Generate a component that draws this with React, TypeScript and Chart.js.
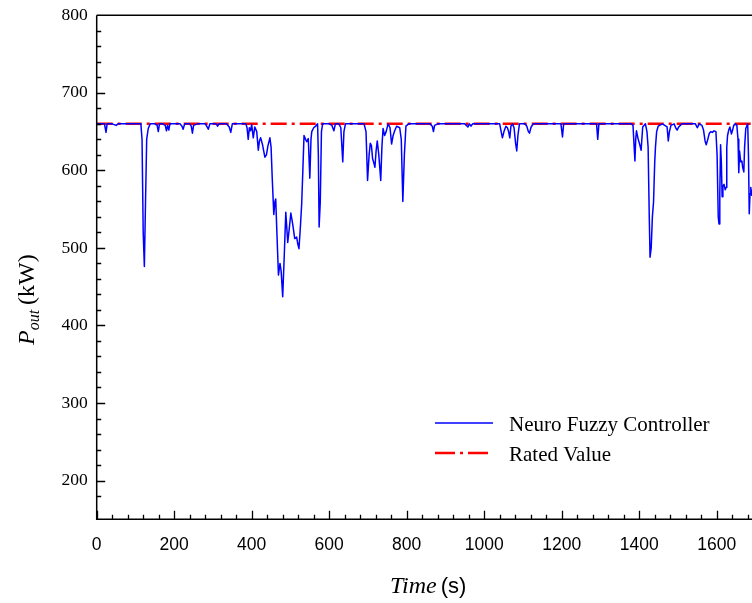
import React, { useEffect, useRef } from "react";
import { Chart, registerables } from "chart.js";

Chart.register(...registerables);

// ---------------- data ----------------
const timeS = [
  0, 10, 20, 24, 27, 40, 50, 55, 80, 100, 114, 117, 120, 123, 126, 129, 133, 138, 150, 156, 159, 162, 170, 177, 180, 183, 186, 189,
  200, 215, 220, 223, 227, 240, 244, 247, 250, 260, 280, 285, 288, 292, 300, 308, 312, 316, 335, 342, 346, 350, 365, 385, 388, 391,
  394, 397, 400, 404, 408, 413, 417, 420, 423, 428, 434, 438, 442, 447, 450, 453, 457, 460, 462, 465, 469, 473, 476, 480, 484, 488,
  493, 497, 501, 506, 511, 516, 519, 522, 526, 529, 532, 535, 539, 542, 546, 550, 553, 555, 560, 565, 570, 572, 574, 577, 580, 583,
  600, 607, 612, 616, 625, 630, 635, 638, 642, 660, 690, 695, 699, 703, 706, 709, 712, 715, 718, 721, 724, 728, 733, 736, 739, 743,
  747, 752, 757, 761, 765, 769, 774, 778, 782, 786, 790, 794, 798, 805, 840, 860, 866, 869, 872, 880, 950, 958, 962, 966, 970, 1040,
  1043, 1047, 1051, 1056, 1060, 1063, 1066, 1069, 1073, 1077, 1081, 1084, 1087, 1091, 1105, 1110, 1114, 1117, 1121, 1127, 1198, 1202,
  1205, 1290, 1293, 1296, 1380, 1384, 1387, 1389, 1391, 1393, 1397, 1401, 1405, 1409, 1416, 1420, 1423, 1426, 1428, 1431, 1434, 1437,
  1440, 1442, 1445, 1449, 1460, 1472, 1475, 1478, 1482, 1490, 1495, 1498, 1502, 1510, 1545, 1550, 1555, 1562, 1566, 1570, 1573, 1577,
  1581, 1585, 1589, 1593, 1598, 1601, 1604, 1606, 1608, 1610, 1612, 1614, 1616, 1619, 1622, 1624, 1626, 1628, 1631, 1634, 1638, 1641,
  1644, 1648, 1652, 1655, 1657, 1659, 1662, 1665, 1667, 1670, 1672, 1675, 1680, 1682, 1684, 1686, 1688, 1690, 1693, 1697, 1702, 1707,
  1712, 1720, 1800,
];

const powerKW = [
  660, 660, 660, 649, 660, 660, 658, 660, 660, 660, 660, 640, 520, 476, 560, 640, 654, 660, 660, 658, 650, 660, 660, 658, 651, 658, 652, 660,
  660, 660, 657, 653, 660, 660, 657, 648, 658, 660, 660, 656, 653, 660, 660, 660, 657, 660, 660, 656, 649, 660, 660, 660, 655, 640,
  655, 651, 659, 642, 656, 650, 626, 638, 642, 633, 617, 620, 632, 642, 630, 590, 543, 560, 563, 520, 465, 480, 470, 437, 490, 546,
  507, 525, 545, 530, 512, 514, 505, 499, 530, 557, 600, 645, 640, 637, 641, 590, 640, 650, 655, 657, 660, 620, 527, 560, 650, 660,
  660, 658, 651, 660, 660, 655, 611, 650, 660, 660, 660, 650, 587, 620, 635, 632, 615, 610, 604, 625, 638, 620, 587, 630, 654, 645,
  650, 660, 655, 634, 645, 651, 657, 656, 655, 640, 560, 620, 657, 660, 660, 660, 657, 650, 658, 660, 660, 656, 660, 657, 660, 660,
  652, 642, 650, 657, 655, 650, 642, 657, 660, 655, 635, 625, 645, 660, 660, 657, 650, 648, 656, 660, 660, 643,
  660, 660, 640, 660, 660, 658, 630, 612, 640, 651, 641, 634, 626, 656, 660, 650, 630, 540, 488, 500, 540, 559,
  610, 630, 650, 657, 660, 656, 638, 650, 658, 660, 654, 652, 656, 660, 660, 655, 660, 658, 652, 638, 633, 640,
  648, 650, 649, 651, 650, 620, 540, 531, 570, 633, 610, 566, 580, 582, 575, 578, 630, 645, 652, 656, 647, 652,
  658, 660, 658, 640, 597, 625, 611, 612, 604, 598, 630, 654, 660, 620, 544, 570, 578, 568, 575, 585, 620, 650,
  658, 660, 660,
];

const ratedTime = [0, 1800];
const ratedKW = [660, 660];

const seriesLabels = ["Neuro Fuzzy Controller", "Rated Value"];
const xTickValues = [0, 200, 400, 600, 800, 1000, 1200, 1400, 1600, 1800];
const yTickValues = [200, 300, 400, 500, 600, 700, 800];
const xMinorStep = 40;
const yMinorStep = 20;

// ---------------- layout ----------------
const CANVAS_W = 830;
const CANVAS_H = 603;
const AREA_LEFT = 96.7;
const AREA_TOP = 15.3;
const AREA_BOTTOM = 519.3;
const X_MAX = 1800;
const AREA_RIGHT = AREA_LEFT + (X_MAX / 200) * 77.5;

const SERIF = "'Liberation Serif', 'Times New Roman', serif";
const SANS = "'Liberation Sans', Arial, sans-serif";

const decorPlugin = {
  id: "decor",
  afterDatasetsDraw(chart: any) {
    const { ctx, chartArea: a, scales } = chart;
    const xs = scales.x;
    const ys = scales.y;
    ctx.save();
    // frame (left, bottom, top)
    ctx.strokeStyle = "#000";
    ctx.lineWidth = 1.5;
    ctx.beginPath();
    ctx.moveTo(a.left, a.top);
    ctx.lineTo(a.right + 2, a.top);
    ctx.moveTo(a.left, a.top);
    ctx.lineTo(a.left, a.bottom);
    ctx.lineTo(a.right + 2, a.bottom);
    ctx.stroke();

    // inward ticks
    ctx.lineWidth = 1.3;
    ctx.beginPath();
    for (let v = xs.min; v <= xs.max; v += xMinorStep) {
      const px = Math.round(xs.getPixelForValue(v)) + 0.5;
      const major = xTickValues.includes(v);
      const len = major ? 8.5 : 4.5;
      ctx.moveTo(px, a.bottom);
      ctx.lineTo(px, a.bottom - len);
    }
    for (let v = 180; v < ys.max; v += yMinorStep) {
      const py = Math.round(ys.getPixelForValue(v)) + 0.5;
      const major = yTickValues.includes(v);
      const len = major ? 8.5 : 4.5;
      ctx.moveTo(a.left, py);
      ctx.lineTo(a.left + len, py);
    }
    ctx.stroke();

    // legend
    const ds = chart.data.datasets;
    const lx0 = 435;
    const lx1 = 493;
    const tx = 509;
    const rows = [423, 453];
    ds.forEach((d: any, i: number) => {
      const y = rows[i];
      ctx.strokeStyle = d.borderColor;
      ctx.lineWidth = i === 0 ? 1.5 : 2.5;
      ctx.setLineDash(i === 0 ? [] : [20, 5, 3, 5]);
      ctx.beginPath();
      ctx.moveTo(lx0, y);
      ctx.lineTo(lx1, y);
      ctx.stroke();
      ctx.setLineDash([]);
      ctx.fillStyle = "#000";
      ctx.font = `21px ${SERIF}`;
      ctx.textAlign = "left";
      ctx.textBaseline = "alphabetic";
      ctx.fillText(d.label, tx, y + 8);
    });

    // x axis title: Time (s)
    ctx.fillStyle = "#000";
    ctx.textBaseline = "alphabetic";
    ctx.textAlign = "left";
    ctx.font = `italic 24px ${SERIF}`;
    const tStr = "Time";
    const tW = ctx.measureText(tStr).width;
    const tStart = 390;
    ctx.fillText(tStr, tStart, 593);
    ctx.font = `22px ${SANS}`;
    ctx.fillText("(s)", tStart + tW + 4, 593);

    // y axis title: P_out (kW)
    ctx.save();
    ctx.translate(34, 345);
    ctx.rotate(-Math.PI / 2);
    ctx.font = `italic 24px ${SERIF}`;
    ctx.fillText("P", 0, 0);
    let off = ctx.measureText("P").width;
    ctx.font = `italic 16px ${SERIF}`;
    ctx.fillText("out", off, 5);
    off += ctx.measureText("out").width + 5;
    ctx.font = `24px ${SERIF}`;
    ctx.fillText("(kW)", off, 0);
    ctx.restore();

    ctx.restore();
  },
};

export default function App() {
  const ref = useRef<HTMLCanvasElement | null>(null);

  useEffect(() => {
    if (!ref.current) return;
    const chart = new Chart(ref.current, {
      type: "line",
      data: {
        datasets: [
          {
            label: seriesLabels[0],
            data: timeS.map((t, i) => ({ x: t, y: powerKW[i] })),
            borderColor: "#0000FF",
            borderWidth: 1.5,
            pointRadius: 0,
            tension: 0,
            borderJoinStyle: "round",
            fill: false,
            order: 0,
          },
          {
            label: seriesLabels[1],
            data: ratedTime.map((t, i) => ({ x: t, y: ratedKW[i] })),
            borderColor: "#FF0000",
            borderWidth: 2.5,
            borderDash: [16, 5, 3, 5],
            pointRadius: 0,
            tension: 0,
            fill: false,
            order: 1,
          },
        ],
      },
      options: {
        animation: false,
        responsive: false,
        events: [],
        layout: {
          padding: { top: AREA_TOP, right: CANVAS_W - AREA_RIGHT, left: 0, bottom: 0 },
        },
        plugins: {
          legend: { display: false },
          tooltip: { enabled: false },
          title: { display: false },
        },
        scales: {
          x: {
            type: "linear",
            min: 0,
            max: X_MAX,
            grid: { display: false, drawTicks: false },
            border: { display: false },
            afterFit: (s: any) => {
              s.height = CANVAS_H - AREA_BOTTOM;
              s.paddingLeft = 0;
              s.paddingRight = 0;
              s.paddingTop = 0;
              s.paddingBottom = 0;
            },
            afterBuildTicks: (s: any) => {
              s.ticks = xTickValues.map((v) => ({ value: v }));
            },
            ticks: {
              autoSkip: false,
              maxRotation: 0,
              minRotation: 0,
              padding: 15,
              color: "#000",
              font: { family: SANS, size: 17.5 },
              callback: (v: any) => String(v),
            },
          },
          y: {
            type: "linear",
            min: 150,
            max: 800,
            grid: { display: false, drawTicks: false },
            border: { display: false },
            afterFit: (s: any) => {
              s.width = AREA_LEFT;
              s.paddingTop = 0;
              s.paddingBottom = 0;
              s.paddingLeft = 0;
              s.paddingRight = 0;
            },
            afterBuildTicks: (s: any) => {
              s.ticks = yTickValues.map((v) => ({ value: v }));
            },
            ticks: {
              padding: 9,
              color: "#000",
              font: { family: SERIF, size: 17.5 },
              callback: (v: any) => String(v),
            },
          },
        },
      },
      plugins: [decorPlugin],
    } as any);
    return () => chart.destroy();
  }, []);

  return (
    <div
      style={{
        position: "fixed",
        left: 0,
        top: 0,
        width: 752,
        height: 603,
        overflow: "hidden",
        background: "#fff",
      }}
    >
      <canvas ref={ref} width={CANVAS_W} height={CANVAS_H} style={{ display: "block", width: CANVAS_W, height: CANVAS_H }} />
    </div>
  );
}
